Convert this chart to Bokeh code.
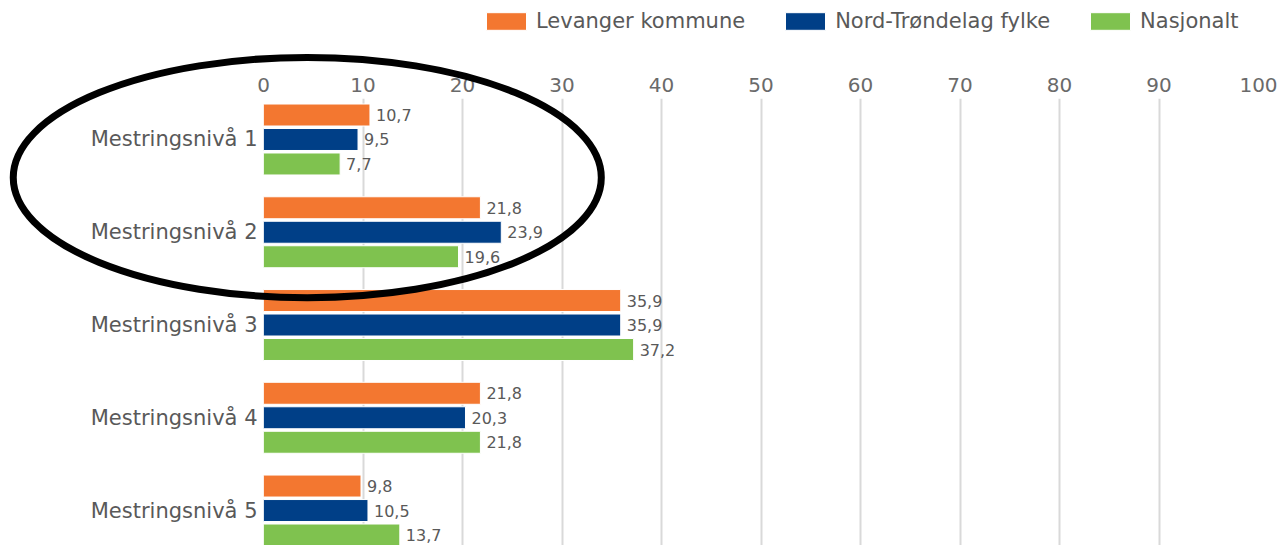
from bokeh.plotting import figure
from bokeh.layouts import column
from bokeh.models import ColumnDataSource, Range1d, Legend, LegendItem
from bokeh.embed import file_html
from bokeh.resources import INLINE
from bokeh.core.properties import value

categories = ["Mestringsnivå 1", "Mestringsnivå 2", "Mestringsnivå 3", "Mestringsnivå 4", "Mestringsnivå 5"]
series_names = ["Levanger kommune", "Nord-Trøndelag fylke", "Nasjonalt"]
levanger = [10.7, 21.8, 35.9, 21.8, 9.8]
nord_trondelag = [9.5, 23.9, 35.9, 20.3, 10.5]
nasjonalt = [7.7, 19.6, 37.2, 21.8, 13.7]
x_ticks = [0, 10, 20, 30, 40, 50, 60, 70, 80, 90, 100]

colors = ["#F37730", "#003F87", "#7FC24F"]
FONT = "DejaVu Sans"
GRAY = "#595959"

offsets = [-0.264, 0.0, 0.264]
sources = []
for k, vals in enumerate([levanger, nord_trondelag, nasjonalt]):
    ys = [i + 1 + offsets[k] for i in range(len(categories))]
    sources.append(ColumnDataSource(dict(
        y=ys, v=vals, lab=[f"{v:.1f}".replace(".", ",") for v in vals])))

# ---- legend strip (top); its frame is aligned with the main chart's frame ----
leg = figure(width=1282, height=44, x_range=Range1d(0, 100), y_range=Range1d(100, 101),
             x_axis_location=None, y_axis_location=None,
             output_backend="svg", toolbar_location=None,
             min_border_left=0, min_border_right=0, min_border_top=0, min_border_bottom=0)
leg.outline_line_color = None
leg.grid.visible = False
leg_items = []
for k, name in enumerate(series_names):
    # same series, drawn outside this strip's range: serves only as legend key
    r = leg.hbar(y="y", right="v", left=0, height=0.237, source=sources[k],
                 fill_color=colors[k], line_color="white", line_width=1)
    leg_items.append(LegendItem(label=name, renderers=[r]))
legend = Legend(items=leg_items, location=(218, 11), orientation="horizontal",
                glyph_width=50, glyph_height=22, label_standoff=5, spacing=35,
                padding=0, margin=0, border_line_color=None,
                background_fill_alpha=0,
                label_text_font=FONT, label_text_font_size="21px",
                label_text_color=GRAY)
leg.add_layout(legend)

# ---- main chart ----
p = figure(width=1282, height=501,
           x_range=Range1d(0, 100), y_range=Range1d(5.377, 0.558),
           x_axis_location="above",
           output_backend="svg", toolbar_location=None,
           min_border_left=263, min_border_right=24,
           min_border_top=54, min_border_bottom=0)
p.outline_line_color = None
p.background_fill_color = "white"
p.border_fill_color = "white"

p.xaxis.ticker = x_ticks
p.xaxis.axis_line_color = None
p.xaxis.major_tick_line_color = None
p.xaxis.minor_tick_line_color = None
p.xaxis.major_label_text_font = FONT
p.xaxis.major_label_text_font_size = "20px"
p.xaxis.major_label_text_color = "#6a6a6a"
p.xaxis.major_label_standoff = 1

p.yaxis.ticker = [i + 1 for i in range(len(categories))]
p.yaxis.major_label_overrides = {i + 1: c for i, c in enumerate(categories)}
p.yaxis.axis_line_color = None
p.yaxis.major_tick_line_color = None
p.yaxis.minor_tick_line_color = None
p.yaxis.major_label_text_font = FONT
p.yaxis.major_label_text_font_size = "21px"
p.yaxis.major_label_text_color = GRAY
p.yaxis.major_label_standoff = 0

p.ygrid.visible = False
p.xgrid.grid_line_color = "#d9d9d9"
p.xgrid.grid_line_width = 2

for k, src in enumerate(sources):
    p.hbar(y="y", right="v", left=0, height=0.237, source=src,
           fill_color=colors[k], line_color="white", line_width=1)
    p.text(x="v", y="y", text="lab", source=src, x_offset=6,
           text_baseline="middle", text_align="left",
           text_font=value(FONT), text_font_size="16px", text_color=GRAY)

# hand-drawn ellipse highlight
p.ellipse(x=4.4, y=1.41, width=59.1, height=2.59, fill_color=None,
          line_color="black", line_width=7, level="overlay")

layout = column(leg, p, spacing=0)
open("out.html", "w").write(file_html(layout, INLINE))
